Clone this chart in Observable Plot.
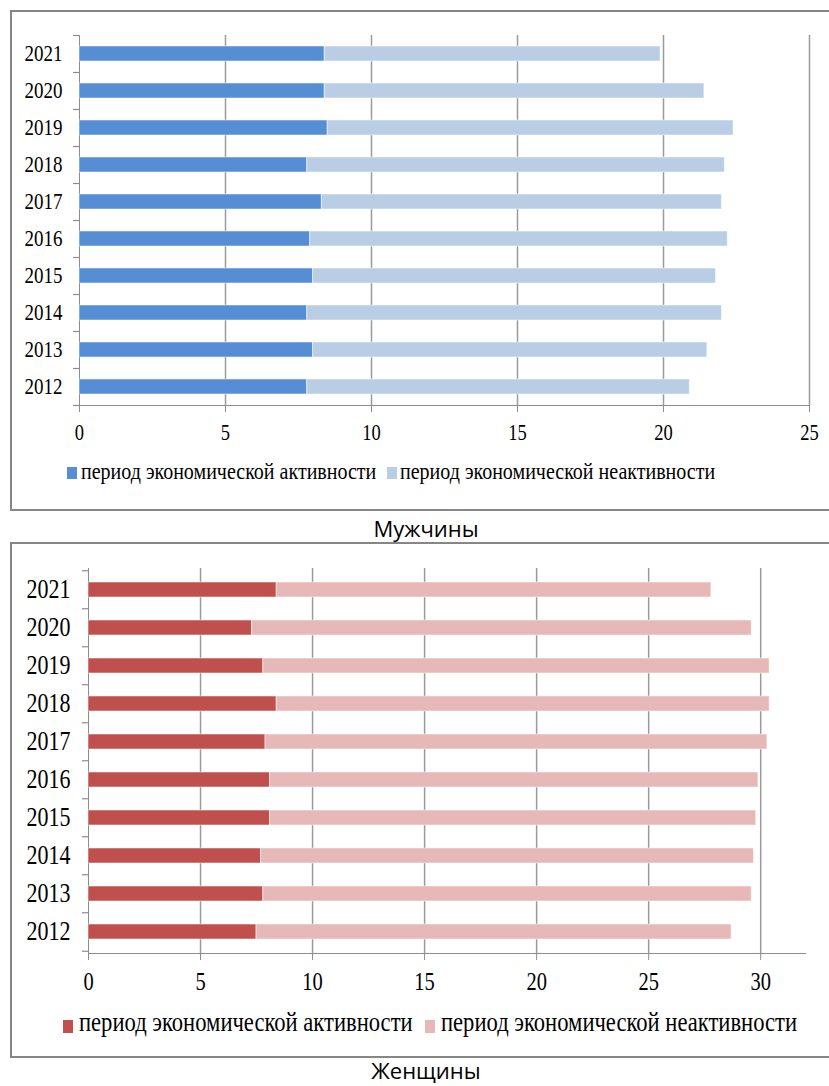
<!DOCTYPE html>
<html><head><meta charset="utf-8">
<script src="https://cdn.jsdelivr.net/npm/d3@7"></script>
<script src="https://cdn.jsdelivr.net/npm/@observablehq/plot@0.6"></script>
<style>
body{margin:0;background:#fff;width:829px;height:1086px;position:relative;overflow:hidden;font-family:"Liberation Serif","Times New Roman",serif;}
.box{position:absolute;border:2px solid #868686;box-sizing:border-box;}
.chart{position:absolute;left:0;}
.chart svg{color:#8c8c8c;overflow:visible;background:transparent;}
.chart svg text{fill:#000;}
.sw{position:absolute;}
.lt{position:absolute;white-space:nowrap;line-height:1;transform:scaleY(1.2);transform-origin:center;color:#000;font-family:"Liberation Serif","Times New Roman",serif;}
.title{position:absolute;font-family:"Open Sans",sans-serif;font-size:22px;line-height:1;transform:translateX(-50%);white-space:nowrap;color:#000;}
</style></head>
<body>
<div class="box" style="left:10px;top:10px;width:840px;height:501px"></div>
<div class="box" style="left:10px;top:542px;width:840px;height:516px"></div>
<div id="men" class="chart" style="top:0px"></div>
<div id="women" class="chart" style="top:533px"></div>
<div id="legends"></div>
<div class="title" style="left:426px;top:517px">Мужчины</div>
<div class="title" style="left:426px;top:1059px">Женщины</div>
<script>
const years = [2021, 2020, 2019, 2018, 2017, 2016, 2015, 2014, 2013, 2012];
const seriesNames = ["период экономической активности", "период экономической неактивности"];
const menActive = [8.4, 8.4, 8.5, 7.8, 8.3, 7.9, 8.0, 7.8, 8.0, 7.8];
const menInactive = [11.5, 13.0, 13.9, 14.3, 13.7, 14.3, 13.8, 14.2, 13.5, 13.1];
const womenActive = [8.4, 7.3, 7.8, 8.4, 7.9, 8.1, 8.1, 7.7, 7.8, 7.5];
const womenInactive = [19.4, 22.3, 22.6, 22.0, 22.4, 21.8, 21.7, 22.0, 21.8, 21.2];
const menTicks = [0, 5, 10, 15, 20, 25];
const womenTicks = [0, 5, 10, 15, 20, 25, 30];
const menColors = ["#558ED5", "#B9CDE5"];
const womenColors = ["#C0504D", "#E6B9B8"];

function stretchText(svg, sel, sy) {
  svg.querySelectorAll(sel).forEach(t => {
    const tr = t.getAttribute("transform");
    if (tr) {
      t.setAttribute("transform", tr + ` scale(1,${sy})`);
    } else {
      const x = parseFloat(t.getAttribute("x") || 0), y = parseFloat(t.getAttribute("y") || 0);
      const yAttr = t.getAttribute("y") || "";
      if (yAttr.endsWith("em")) {
        t.setAttribute("transform", `translate(${x},0) scale(1,${sy})`);
        t.removeAttribute("x");
      } else {
        t.setAttribute("transform", `translate(${x},${y}) scale(1,${sy})`);
        t.removeAttribute("x"); t.removeAttribute("y");
      }
    }
  });
}

function makeChart(o) {
  const rows = [];
  years.forEach((y, i) => {
    rows.push({year: String(y), series: seriesNames[0], value: o.active[i]});
    rows.push({year: String(y), series: seriesNames[1], value: o.inactive[i]});
  });
  const step = (o.height - o.mt - o.mb) / years.length;
  const unitsPerPx = o.xMax / (o.width - o.ml - o.mr);
  const tickLen = 6 * unitsPerPx;
  const yDomain = years.map(String);
  const plot = Plot.plot({
    width: o.width, height: o.height,
    marginTop: o.mt, marginBottom: o.mb, marginLeft: o.ml, marginRight: o.mr,
    style: {fontFamily: "'Liberation Serif','Times New Roman',serif", fontSize: o.tickFont + "px", overflow: "visible", background: "transparent"},
    x: {domain: [0, o.xMax], ticks: o.ticks, tickSize: 7, tickPadding: 12, line: true, label: null, tickFormat: d => String(d)},
    y: {domain: yDomain, paddingInner: 0.6, paddingOuter: 0.3, tickSize: 0, tickPadding: o.padY, line: true, label: null},
    color: {domain: seriesNames, range: o.colors},
    marks: [
      Plot.ruleX(o.ticks.filter(t => t > 0), {stroke: "#9a9a9a", strokeWidth: 1.5}),
      Plot.barX(rows, {y: "year", x: "value", fill: "series", stroke: "#ffffff", strokeOpacity: 0.5, strokeWidth: 1, order: seriesNames}),
      Plot.ruleY(yDomain, {y: d => d, x1: -tickLen, x2: 0, dy: -step / 2, stroke: "#8c8c8c", strokeWidth: 1.2}),
      Plot.ruleY([yDomain[yDomain.length - 1]], {y: d => d, x1: -tickLen, x2: 0, dy: step / 2, stroke: "#8c8c8c", strokeWidth: 1.2})
    ]
  });
  plot.querySelectorAll('g[aria-label="y-axis tick label"]').forEach(g => g.setAttribute("font-size", o.yearFont));
  stretchText(plot, 'g[aria-label="y-axis tick label"] text', 1.2);
  stretchText(plot, 'g[aria-label="x-axis tick label"] text', 1.2);
  document.getElementById(o.id).appendChild(plot);
}

makeChart({id: "men", active: menActive, inactive: menInactive, ticks: menTicks, xMax: 25, colors: menColors,
  width: 829, height: 450, mt: 35, mb: 45, ml: 79, mr: 20, tickFont: 18.5, yearFont: 19, padY: 17});
makeChart({id: "women", active: womenActive, inactive: womenInactive, ticks: womenTicks, xMax: 32, colors: womenColors,
  width: 829, height: 465, mt: 35, mb: 45, ml: 88, mr: 24, tickFont: 20.5, yearFont: 22, padY: 18});

// legends (HTML, below the plots)
const legendSpecs = [
  {colors: menColors, font: 20, textTop: 461, swTop: 467, swH: 12, items: [{sw: 67, tx: 81}, {sw: 387, tx: 400}]},
  {colors: womenColors, font: 22.6, textTop: 1012, swTop: 1020, swH: 13, items: [{sw: 63, tx: 79}, {sw: 425, tx: 441}]}
];
const lg = document.getElementById("legends");
legendSpecs.forEach(spec => {
  spec.items.forEach((it, i) => {
    const sw = document.createElement("div");
    sw.className = "sw";
    sw.style.cssText = `left:${it.sw}px;top:${spec.swTop}px;width:10px;height:${spec.swH}px;background:${spec.colors[i]}`;
    lg.appendChild(sw);
    const t = document.createElement("div");
    t.className = "lt";
    t.style.cssText = `left:${it.tx}px;top:${spec.textTop}px;font-size:${spec.font}px`;
    t.textContent = seriesNames[i];
    lg.appendChild(t);
  });
});
</script>
</body></html>
